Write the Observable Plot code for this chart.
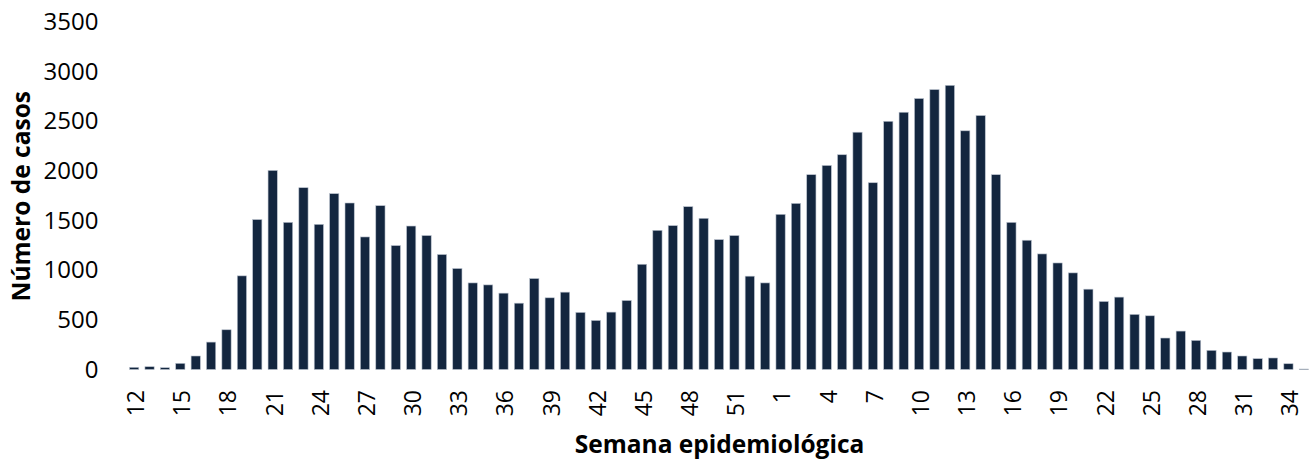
<!DOCTYPE html>
<html>
<head>
<meta charset="utf-8">
<script src="https://cdn.jsdelivr.net/npm/d3@7"></script>
<script src="https://cdn.jsdelivr.net/npm/@observablehq/plot@0.6"></script>
<style>
  body { margin: 0; background: #fff; }
</style>
</head>
<body>
<div id="chart"></div>
<script>
// Epidemiological weeks 2020 (12–53) and 2021 (1–35)
const weeks2020 = [12,13,14,15,16,17,18,19,20,21,22,23,24,25,26,27,28,29,30,31,32,33,34,35,36,37,38,39,40,41,42,43,44,45,46,47,48,49,50,51,52,53];
const cases2020 = [22,28,18,62,136,276,400,943,1510,2005,1482,1831,1462,1771,1677,1335,1650,1248,1445,1349,1158,1017,872,852,769,668,916,722,779,575,494,578,695,1060,1402,1449,1640,1523,1308,1349,940,872];
const weeks2021 = [1,2,3,4,5,6,7,8,9,10,11,12,13,14,15,16,17,18,19,20,21,22,23,24,25,26,27,28,29,30,31,32,33,34,35];
const cases2021 = [1563,1673,1962,2055,2163,2390,1881,2500,2591,2729,2819,2862,2404,2558,1962,1482,1302,1164,1073,973,809,685,729,555,541,317,387,293,193,176,136,109,116,58,5];
const yTicks = [0,500,1000,1500,2000,2500,3000,3500];
const xTickEvery = 3;

const rows = [
  ...weeks2020.map((w, i) => ({key: `2020-${w}`, week: w, cases: cases2020[i]})),
  ...weeks2021.map((w, i) => ({key: `2021-${w}`, week: w, cases: cases2021[i]}))
];
const keys = rows.map(d => d.key);
const weekOf = Object.fromEntries(rows.map(d => [d.key, d.week]));
const tickKeys = keys.filter((k, i) => i % xTickEvery === 0);

const chart = Plot.plot({
  width: 1310,
  height: 459,
  marginLeft: 128,
  marginRight: 0,
  marginTop: 22,
  marginBottom: 89.5,
  style: {fontFamily: "'Open Sans', sans-serif", fontSize: "24px", color: "#000", background: "#fff"},
  x: {type: "band", domain: keys, paddingInner: 0.4, paddingOuter: 0.1, align: 0.5, round: false},
  y: {domain: [0, 3500]},
  marks: [
    Plot.barY(rows, {x: "key", y: "cases", fill: "#13263f", stroke: "#b9c1cd", strokeWidth: 0.6}),
    Plot.axisY({
      ticks: yTicks, tickFormat: d => String(d), tickSize: 0, tickPadding: 30, fontSize: 24,
      label: "Número de casos", labelAnchor: "center", labelArrow: "none", labelOffset: 116
    }),
    Plot.axisX({
      ticks: tickKeys, tickFormat: k => weekOf[k], tickRotate: -90, tickSize: 0, tickPadding: 20, fontSize: 23, dx: 2,
      label: "Semana epidemiológica", labelAnchor: "center", labelArrow: "none", labelOffset: 83
    })
  ]
});

chart.querySelectorAll('[aria-label="y-axis label"], [aria-label="x-axis label"]').forEach(g => {
  g.setAttribute("font-weight", "bold");
  g.setAttribute("font-size", "24.5");
});
document.getElementById("chart").appendChild(chart);
</script>
</body>
</html>
